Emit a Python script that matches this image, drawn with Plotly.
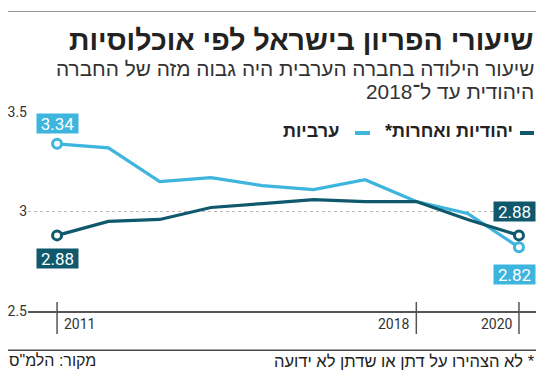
import plotly.graph_objects as go

# ---- data ----
years = [2011, 2012, 2013, 2014, 2015, 2016, 2017, 2018, 2019, 2020]
arab = [3.34, 3.32, 3.15, 3.17, 3.13, 3.11, 3.16, 3.05, 2.99, 2.82]
jewish = [2.88, 2.95, 2.96, 3.02, 3.04, 3.06, 3.05, 3.05, 2.96, 2.88]
x_tick_years = [2011, 2018, 2020]
x_tick_labels = ["2011", "2018", "2020"]
y_tick_vals = [2.5, 3, 3.5]
y_tick_labels = ["2.5", "3", "3.5"]
series_names = ["ערביות", "יהודיות ואחרות*"]

title = "שיעורי הפריון בישראל לפי אוכלוסיות"
subtitle1 = "שיעור הילודה בחברה הערבית היה גבוה מזה של החברה"
subtitle2 = "היהודית עד ל־2018"
note = "* לא הצהירו על דתן או שדתן לא ידועה"
source = 'מקור: הלמ"ס'

# ---- styling ----
# the page body has an 8px margin, so the figure is 16px smaller than the window
OFF = 8
W, H = 550 - 2 * OFF, 378 - 2 * OFF
def px(x):  # window pixel -> paper
    return (x - OFF) / W
def py(y):
    return 1 - (y - OFF) / H

LIGHT = "#3db5de"
DARK = "#10596d"
HEB = "Liberation Sans, Arial, DejaVu Sans, sans-serif"
NUM = "Roboto, Liberation Sans, sans-serif"
RLM = "\u200f"

fig = go.Figure()

for vals, col in [(arab, LIGHT), (jewish, DARK)]:
    fig.add_trace(go.Scatter(x=years, y=vals, mode="lines",
                             line=dict(color=col, width=3.2),
                             hoverinfo="skip", showlegend=False))
for vals, col in [(arab, LIGHT), (jewish, DARK)]:
    fig.add_trace(go.Scatter(x=[years[0], years[-1]], y=[vals[0], vals[-1]],
                             mode="markers",
                             marker=dict(size=9, color="white",
                                         line=dict(color=col, width=3)),
                             hoverinfo="skip", showlegend=False))

ann = []
def vlabel(x, y, col, xs, ys):
    ann.append(dict(x=x, y=y, xref="x", yref="y", text=f"{y:.2f}",
                    showarrow=False, bgcolor=col, xshift=xs, yshift=ys,
                    font=dict(family=NUM, size=17, color="white"),
                    width=38, height=16, borderpad=1.5))

vlabel(years[0], arab[0], LIGHT, 0, 20)
vlabel(years[0], jewish[0], DARK, 0, -23)
vlabel(years[-1], jewish[-1], DARK, -4, 24)
vlabel(years[-1], arab[-1], LIGHT, -4, -27)

# x tick labels
for yr, lab in zip(x_tick_years, x_tick_labels):
    left = yr == x_tick_years[0]
    ann.append(dict(x=yr, y=py(324), xref="x", yref="paper", text=lab,
                    showarrow=False, xanchor="left" if left else "right",
                    yanchor="middle", xshift=5 if left else -4,
                    font=dict(family=NUM, size=14, color="#333")))

# title & subtitle
ann.append(dict(x=px(536), y=py(40), xref="paper", yref="paper",
                text=f"<b>{title}</b>", showarrow=False, xanchor="right",
                yanchor="middle", font=dict(family=HEB, size=28.5, color="#222")))
ann.append(dict(x=px(536), y=py(68), xref="paper", yref="paper",
                text=subtitle1, showarrow=False, xanchor="right",
                yanchor="middle", font=dict(family=HEB, size=20.8, color="#333")))
ann.append(dict(x=px(536), y=py(91), xref="paper", yref="paper",
                text=subtitle2, showarrow=False, xanchor="right",
                yanchor="middle", font=dict(family=HEB, size=20.8, color="#333")))

# legend
ann.append(dict(x=px(515), y=py(131), xref="paper", yref="paper",
                text=f"<b>{series_names[1]}{RLM}</b>", showarrow=False,
                xanchor="right", yanchor="middle",
                font=dict(family=HEB, size=18, color="#222")))
ann.append(dict(x=px(341), y=py(131), xref="paper", yref="paper",
                text=f"<b>{series_names[0]}</b>", showarrow=False,
                xanchor="right", yanchor="middle",
                font=dict(family=HEB, size=18, color="#222")))

# footer
ann.append(dict(x=px(536), y=py(360.5), xref="paper", yref="paper",
                text=RLM + note, showarrow=False, xanchor="right",
                yanchor="middle", borderpad=0,
                font=dict(family=HEB, size=16.5, color="#222")))
ann.append(dict(x=px(8), y=py(360.5), xref="paper", yref="paper",
                text=source, showarrow=False, xanchor="left",
                yanchor="middle", borderpad=0,
                font=dict(family=HEB, size=16, color="#222")))

shapes = []
shapes.append(dict(type="line", xref="paper", yref="paper", x0=px(8), x1=px(536),
                   y0=py(6), y1=py(6), line=dict(color="#8a8a8a", width=2)))
shapes.append(dict(type="line", xref="paper", yref="paper", x0=px(8), x1=px(536),
                   y0=py(11.5), y1=py(11.5), line=dict(color="#9a9a9a", width=1)))
# footer rule (filled rect)
shapes.append(dict(type="rect", xref="paper", yref="paper", x0=px(8), x1=px(536),
                   y0=py(351), y1=py(349.5), fillcolor="#4a4a4a",
                   line=dict(width=0), layer="above"))
for yr in x_tick_years:
    shapes.append(dict(type="line", xref="x", yref="paper", x0=yr, x1=yr,
                       y0=py(334), y1=py(302), line=dict(color="#555", width=1.5)))
shapes.append(dict(type="line", xref="paper", yref="paper", x0=px(520), x1=px(534),
                   y0=py(133), y1=py(133), line=dict(color=DARK, width=4)))
shapes.append(dict(type="line", xref="paper", yref="paper", x0=px(355), x1=px(370),
                   y0=py(133), y1=py(133), line=dict(color=LIGHT, width=4)))

x_left = 2011 - 29 / 51.22
x_right = 2020 + 17 / 51.22

fig.update_layout(
    width=W, height=H,
    margin=dict(l=0, r=0, t=0, b=0, autoexpand=False),
    paper_bgcolor="white", plot_bgcolor="white",
    showlegend=False,
    xaxis=dict(domain=[px(28), px(536)], range=[x_left, x_right],
               showgrid=False, zeroline=False, showticklabels=False,
               showline=True, linecolor="#555", linewidth=1.5, ticks=""),
    yaxis=dict(domain=[py(311), py(112)], range=[2.5, 3.5],
               tickvals=y_tick_vals, ticktext=y_tick_labels,
               showgrid=True, gridcolor="#bbbbbb", griddash="dot", gridwidth=1,
               zeroline=False, showline=False, ticks="",
               tickfont=dict(family=NUM, size=14, color="#333")),
    annotations=ann, shapes=shapes,
)

fig.write_html("out.html")
